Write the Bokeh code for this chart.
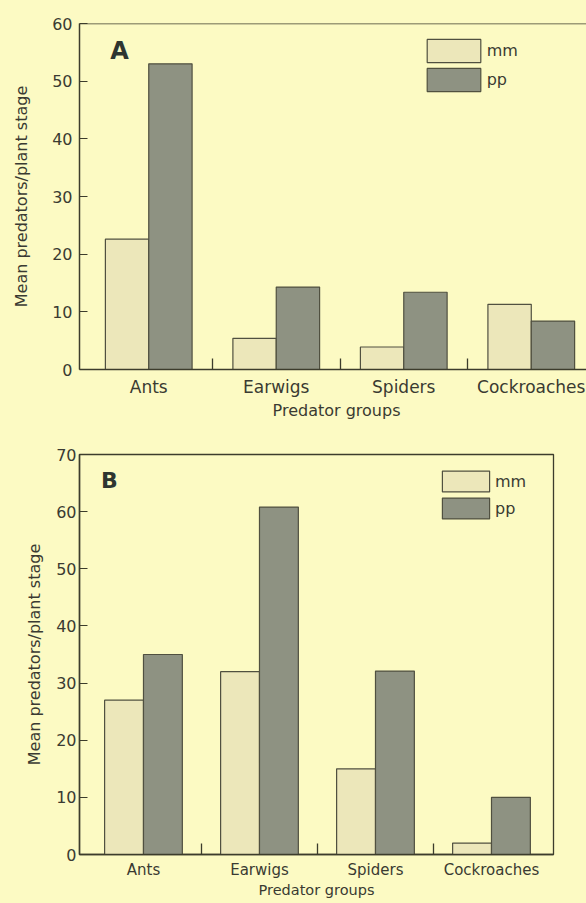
from bokeh.plotting import figure
from bokeh.models import Range1d, FixedTicker, ColumnDataSource, Legend, LegendItem, Label, Span
from bokeh.layouts import column
from bokeh.transform import dodge
from bokeh.embed import file_html
from bokeh.resources import INLINE

# ---- data ----
groups = ["Ants", "Earwigs", "Spiders", "Cockroaches"]
series = ["mm", "pp"]
a_mm = [22.6, 5.4, 3.9, 11.3]
a_pp = [53.0, 14.3, 13.4, 8.4]
b_mm = [27.0, 32.0, 15.0, 2.0]
b_pp = [35.0, 60.8, 32.1, 10.0]
a_yticks = [0, 10, 20, 30, 40, 50, 60]
b_yticks = [0, 10, 20, 30, 40, 50, 60, 70]
x_title = "Predator groups"
y_title = "Mean predators/plant stage"

# ---- style ----
BG = "#fcfac3"
MM_FILL = "#ece7ba"
PP_FILL = "#8e9282"
BAR_LINE = "#505040"
AXIS = "#3c3c2c"
TEXT = "#3a3a32"
FONT = "DejaVu Sans"


def make_panel(mm, pp, yticks, letter, cfg):
    n = len(groups)
    centers = [2 * i + 1 for i in range(n)]
    bounds = [2 * i for i in range(1, n)]
    src = ColumnDataSource(dict(x=centers, mm=mm, pp=pp, g=groups))

    p = figure(
        frame_width=cfg["fw"], frame_height=cfg["fh"],
        x_range=Range1d(*cfg["xr"]), y_range=Range1d(0, yticks[-1]),
        output_backend="svg", toolbar_location=None,
        min_border_left=cfg["bl"], min_border_right=cfg["br"],
        min_border_top=cfg["bt"], min_border_bottom=cfg["bb"],
        background_fill_color=BG, border_fill_color=BG,
    )
    p.grid.visible = False
    bw = cfg["bw"]
    r_mm = p.vbar(x=dodge("x", -bw / 2, range=p.x_range), top="mm", width=bw, bottom=0,
                  source=src, fill_color=MM_FILL, line_color=BAR_LINE, line_width=1.2)
    r_pp = p.vbar(x=dodge("x", bw / 2, range=p.x_range), top="pp", width=bw, bottom=0,
                  source=src, fill_color=PP_FILL, line_color=BAR_LINE, line_width=1.2)

    xa = p.xaxis[0]
    xa.ticker = FixedTicker(ticks=centers, minor_ticks=bounds)
    xa.major_label_overrides = {c: g for c, g in zip(centers, groups)}
    xa.major_tick_in = 0
    xa.major_tick_out = 0
    xa.major_tick_line_color = None
    xa.minor_tick_in = 11
    xa.minor_tick_out = 0
    xa.minor_tick_line_color = AXIS
    xa.minor_tick_line_width = 1.3
    xa.major_label_standoff = cfg["xls"]
    xa.major_label_text_font = FONT
    xa.major_label_text_font_size = cfg["xlf"]
    xa.major_label_text_color = TEXT
    xa.axis_label = x_title
    xa.axis_label_standoff = cfg["xts"]
    xa.axis_label_text_font = FONT
    xa.axis_label_text_font_size = cfg["xtf"]
    xa.axis_label_text_font_style = "normal"
    xa.axis_label_text_color = TEXT
    xa.axis_line_color = AXIS
    xa.axis_line_width = 1.5

    ya = p.yaxis[0]
    ya.ticker = FixedTicker(ticks=yticks)
    ya.major_tick_in = 8
    ya.major_tick_out = 0
    ya.major_tick_line_color = AXIS
    ya.major_tick_line_width = 1.2
    ya.minor_tick_line_color = None
    ya.major_label_standoff = cfg["yls"]
    ya.major_label_text_font = FONT
    ya.major_label_text_font_size = "16px"
    ya.major_label_text_color = TEXT
    ya.axis_label = y_title
    ya.axis_label_standoff = cfg["yts"]
    ya.axis_label_text_font = FONT
    ya.axis_label_text_font_size = "16px"
    ya.axis_label_text_font_style = "normal"
    ya.axis_label_text_color = TEXT
    ya.axis_line_color = AXIS
    ya.axis_line_width = 1.5

    if cfg["box"]:
        p.outline_line_color = AXIS
        p.outline_line_width = 1.3
    else:
        p.outline_line_color = None
        p.add_layout(Span(location=yticks[-1], dimension="width",
                          line_color=AXIS, line_width=1.6))

    legend = Legend(
        items=[LegendItem(label=series[0], renderers=[r_mm]),
               LegendItem(label=series[1], renderers=[r_pp])],
        location=cfg["leg"], orientation="vertical",
        glyph_width=cfg["gw"], glyph_height=cfg["gh"], label_height=cfg["gh"] - 4,
        spacing=cfg["gs"], padding=0, margin=0, label_standoff=0,
        border_line_color=None, background_fill_alpha=0,
        label_text_font=FONT, label_text_font_size="16px", label_text_color=TEXT,
    )
    p.add_layout(legend)

    p.add_layout(Label(x=cfg["lab"][0], y=cfg["lab"][1], x_units="screen", y_units="screen",
                       text=letter, text_font=FONT, text_font_style="bold",
                       text_font_size=cfg["labf"], text_color="#2e3530",
                       text_align="center", text_baseline="middle"))
    return p


cfg_a = dict(fw=514, fh=346, xr=(-0.086, 7.976), bl=72, br=0, bt=23, bb=56, bw=0.68,
             xls=7, xlf="17px", xts=1, xtf="16px", yls=7, yts=18, box=False,
             leg=(349, 275), gw=67, gh=29, gs=0, lab=(40, 319), labf="24px")
cfg_b = dict(fw=474, fh=400, xr=(-0.103, 8.069), bl=79, br=33, bt=29, bb=48, bw=0.67,
             xls=6, xlf="15px", xts=0, xtf="14.5px", yls=3, yts=9, box=True,
             leg=(357, 333), gw=59, gh=26, gs=1, lab=(30, 374), labf="22px")

pa = make_panel(a_mm, a_pp, a_yticks, "A", cfg_a)
pb = make_panel(b_mm, b_pp, b_yticks, "B", cfg_b)

layout = column(pa, pb, spacing=0)
html = file_html(layout, INLINE, title="Predators")
html = html.replace("</head>", "<style>body{background:%s;}</style></head>" % BG, 1)
open("out.html", "w").write(html)
